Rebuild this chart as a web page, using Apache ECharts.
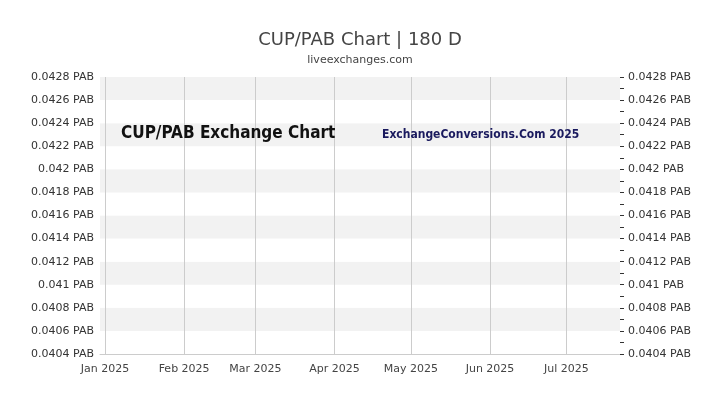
<!DOCTYPE html>
<html><head><meta charset="utf-8">
<script src="https://cdn.jsdelivr.net/npm/echarts@6/dist/echarts.min.js"></script>
<style>html,body{margin:0;padding:0;background:#fff}#c{width:720px;height:405px}#e{position:absolute;left:0;top:0;font-size:10px;color:red}</style>
</head><body><div id="c"></div><div id="e"></div>
<script>
const startDate = '2024-12-30';
// values in units of 1e-5 PAB, one per day from startDate; null = no quote
const seg1 = [415.6,414.0,417.4,417.4,411.9,416.7,416.7,418.0,413.6,412.0,418.1,416.9,416.9,412.0,421.3,420.7,416.0,418.0,416.7,416.6,415.8,420.5,421.4,413.7,417.9,416.7,416.6,415.0,410.8,417.5,418.3,416.7,417.0,417.1,405.8,422.5,419.9,416.0,418.6,416.3,416.3,411.3,415.4,420.0,418.9,421.4,419.2,419.2,419.7,417.8,417.8,418.5,420.2,418.1,418.1,420.2,418.3,419.3,418.1,414.8,418.5,418.5,419.1,421.1,423.6,418.1,418.1,418.3,418.3,418.6,418.0,418.5,418.6,418.0,419.2];
const gap1 = 24;
const seg2 = [417.6,421.8,416.6,427.0,418.3,418.5,418.2,418.0,418.6];
const gap2 = 5;
const seg3 = [418.6,415.0,417.1,416.8,416.9,416.7,418.5,416.9,415.6,415.6,416.6,415.8,417.1,416.7,417.1,416.7,417.2,416.7,416.9,417.3,417.7,417.7,416.0,416.5,416.7,416.5,415.8,415.2,413.3,420.6,415.9,417.6,416.7,416.8,420.5,417.7,416.1,416.5,416.6,416.7,416.8,419.9,418.8,415.5,417.3,416.8,416.7,416.7,415.4,416.5,417.4,422.4,414.3,416.7,416.7,418.9,417.4,417.1,417.1,417.5,416.8,416.6,414.3,426.8,417.4,422.4,415.1,416.7,416.8,417.0,416.8,416.5,419.1,415.9,416.6,416.7,416.3,418.0,416.9,419.8,416.3,416.5,416.7,416.9,414.6,411.4,417.5,419.7,418.6,416.7];
const tailDays = 2;
const yMin = 0.0404, yMax = 0.0428, yStep = 0.0002;

try {
const vals = [].concat(seg1, Array(gap1).fill(null), seg2, Array(gap2).fill(null), seg3, Array(tailDays).fill(null))
  .map(v => v == null ? null : +(v / 1e5).toFixed(6));
const months = ['Jan','Feb','Mar','Apr','May','Jun','Jul','Aug','Sep','Oct','Nov','Dec'];
const base = Date.UTC(2024, 11, 30);
const dates = vals.map((_, i) => new Date(base + i * 86400000));
const cats = dates.map(d => months[d.getUTCMonth()] + ' ' + d.getUTCFullYear() + (d.getUTCDate() === 1 ? '' : ' ' + d.getUTCDate()));
const isMonthStart = (i) => dates[i].getUTCDate() === 1;
const fmtY = v => (+v.toFixed(4)) + ' PAB';
const narrow = "'Liberation Sans Narrow','DejaVu Sans Condensed',sans-serif";

const chart = echarts.init(document.getElementById('c'));
chart.setOption({
  animation: false,
  title: [
    {text: 'CUP/PAB Chart | 180 D', subtext: 'liveexchanges.com', left: 'center', top: 26,
      textStyle: {fontFamily: 'DejaVu Sans', fontSize: 18, fontWeight: 'normal', color: '#444'},
      subtextStyle: {fontFamily: 'DejaVu Sans', fontSize: 11, color: '#444'}, itemGap: 6},
    {text: 'CUP/PAB Exchange Chart', left: 116, top: 120,
      textStyle: {fontFamily: narrow, fontWeight: 'bold', fontSize: 17, color: '#111'}},
    {text: 'ExchangeConversions.Com 2025', left: 377, top: 124,
      textStyle: {fontFamily: narrow, fontWeight: 'bold', fontSize: 12, color: '#1a1a5e'}}
  ],
  grid: {left: 100, right: 100, top: 77, bottom: 51},
  xAxis: {type: 'category', data: cats, boundaryGap: false,
    axisLine: {show: true, lineStyle: {color: '#ccc'}}, axisTick: {show: false},
    axisLabel: {interval: (i) => isMonthStart(i), fontFamily: 'DejaVu Sans', fontSize: 11, color: '#444', margin: 10},
    splitLine: {show: true, interval: (i) => isMonthStart(i), lineStyle: {color: '#ccc'}}},
  yAxis: [
    {type: 'value', min: yMin, max: yMax, interval: yStep, position: 'left',
      axisLine: {show: false}, axisTick: {show: false},
      axisLabel: {formatter: fmtY, fontFamily: 'DejaVu Sans', fontSize: 11, color: '#333', margin: 6},
      splitLine: {show: false},
      splitArea: {show: true, areaStyle: {color: ['#ffffff', '#f2f2f2']}}},
    {type: 'value', min: yMin, max: yMax, interval: yStep, position: 'right',
      axisLine: {show: false}, axisTick: {show: true, length: 4, lineStyle: {color: '#333'}},
      minorTick: {show: true, splitNumber: 2, length: 4, lineStyle: {color: '#333'}},
      axisLabel: {formatter: fmtY, fontFamily: 'DejaVu Sans', fontSize: 11, color: '#333', margin: 8},
      splitLine: {show: false}}
  ],
  series: [{type: 'line', data: vals, connectNulls: true, showSymbol: false, symbol: 'none', xAxisIndex: 0, yAxisIndex: 0,
    lineStyle: {color: '#7b93dd', width: 1}}]
});
} catch (err) { document.getElementById('e').textContent = String(err && err.stack || err); }
</script></body></html>
